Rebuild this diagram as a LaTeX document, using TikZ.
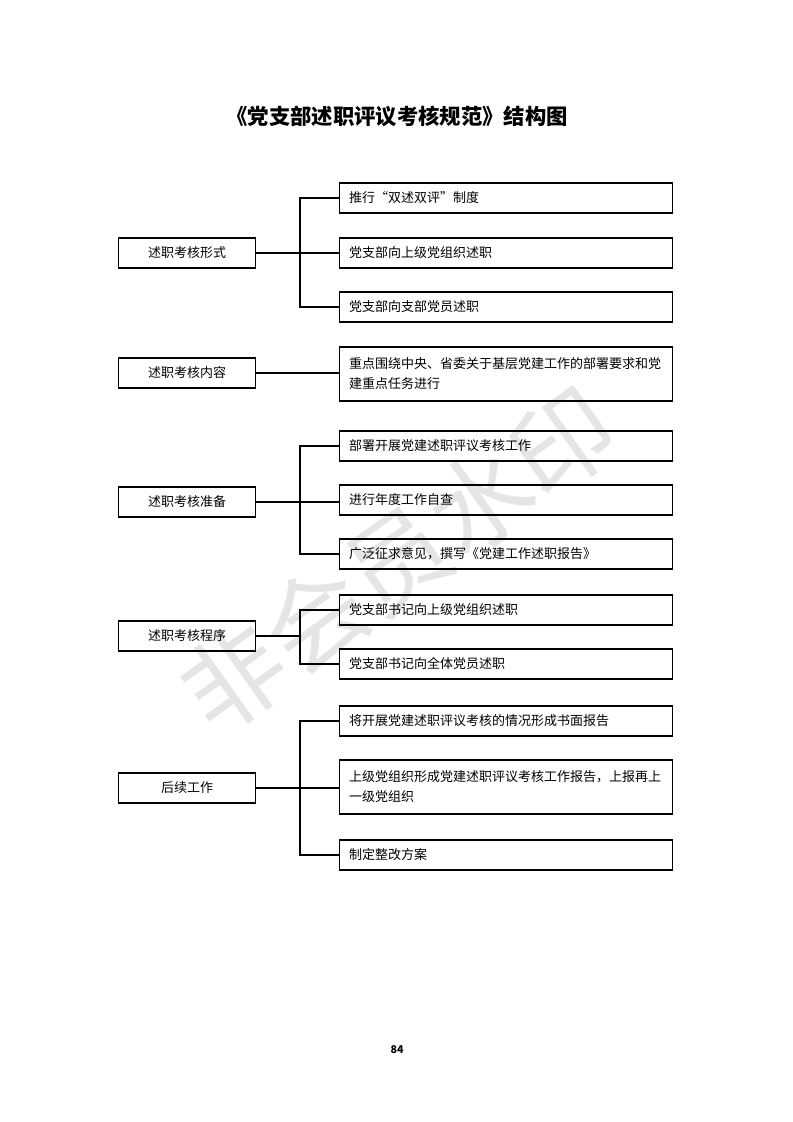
\documentclass[tikz,border=0pt]{standalone}
\usepackage{fontspec}
\setmainfont{Noto Sans CJK SC}
\newcommand{\boxfont}{\fontsize{9.75}{15}\selectfont}
\begin{document}
\begin{tikzpicture}[x=0.75pt,y=-0.75pt,
  lbox/.style={draw, line width=1pt, minimum width=102.75pt, minimum height=22.5pt, inner sep=0pt, font=\boxfont},
  rbox/.style={draw, line width=1pt, anchor=west, text width=235.75pt, inner xsep=7pt, inner ysep=0pt, minimum height=22.5pt, align=left, font=\boxfont},
  conn/.style={line width=0.8pt}]
\useasboundingbox (0,0) rectangle (793,1122);
% watermark
\node[rotate=35.5, text=black!10, font=\fontsize{76}{76}\selectfont] (wm) at (398,560) {非会员水印};
% title
\node[font=\fontsize{16}{16}\selectfont\bfseries] (title) at (397,116) {《党支部述职评议考核规范》结构图};
% group 1
\node[lbox] (L1) at (187,253) {述职考核形式};
\node[rbox] (R11) at (339,198) {推行“双述双评”制度};
\node[rbox] (R12) at (339,253) {党支部向上级党组织述职};
\node[rbox] (R13) at (339,307) {党支部向支部党员述职};
\coordinate (S1) at (300,253);
\draw[conn] (L1.east) -- (S1) -- (R12.west);
\draw[conn] (S1) |- (R11.west);
\draw[conn] (S1) |- (R13.west);
% group 2
\node[lbox] (L2) at (187,373) {述职考核内容};
\node[rbox, minimum height=40.5pt] (R21) at (339,374) {重点围绕中央、省委关于基层党建工作的部署要求和党\\建重点任务进行};
\draw[conn] (L2.east) -- (R21.west |- L2.east);
% group 3
\node[lbox] (L3) at (187,502) {述职考核准备};
\node[rbox] (R31) at (339,446) {部署开展党建述职评议考核工作};
\node[rbox] (R32) at (339,500) {进行年度工作自查};
\node[rbox] (R33) at (339,554) {广泛征求意见，撰写《党建工作述职报告》};
\coordinate (S3) at (300,502);
\draw[conn] (L3.east) -- (S3) -- (R32.west |- S3);
\draw[conn] (S3) |- (R31.west);
\draw[conn] (S3) |- (R33.west);
% group 4
\node[lbox] (L4) at (187,636) {述职考核程序};
\node[rbox] (R41) at (339,610) {党支部书记向上级党组织述职};
\node[rbox] (R42) at (339,664) {党支部书记向全体党员述职};
\coordinate (S4) at (300,636);
\draw[conn] (L4.east) -- (S4);
\draw[conn] (S4) |- (R41.west);
\draw[conn] (S4) |- (R42.west);
% group 5
\node[lbox] (L5) at (187,788) {后续工作};
\node[rbox] (R51) at (339,721) {将开展党建述职评议考核的情况形成书面报告};
\node[rbox, minimum height=40.5pt] (R52) at (339,787) {上级党组织形成党建述职评议考核工作报告，上报再上\\一级党组织};
\node[rbox] (R53) at (339,855) {制定整改方案};
\coordinate (S5) at (300,788);
\draw[conn] (L5.east) -- (S5) -- (R52.west |- S5);
\draw[conn] (S5) |- (R51.west);
\draw[conn] (S5) |- (R53.west);
% page number
\node[font=\fontsize{8}{8}\selectfont\bfseries] (pg) at (397,1050) {84};
\end{tikzpicture}
\end{document}
